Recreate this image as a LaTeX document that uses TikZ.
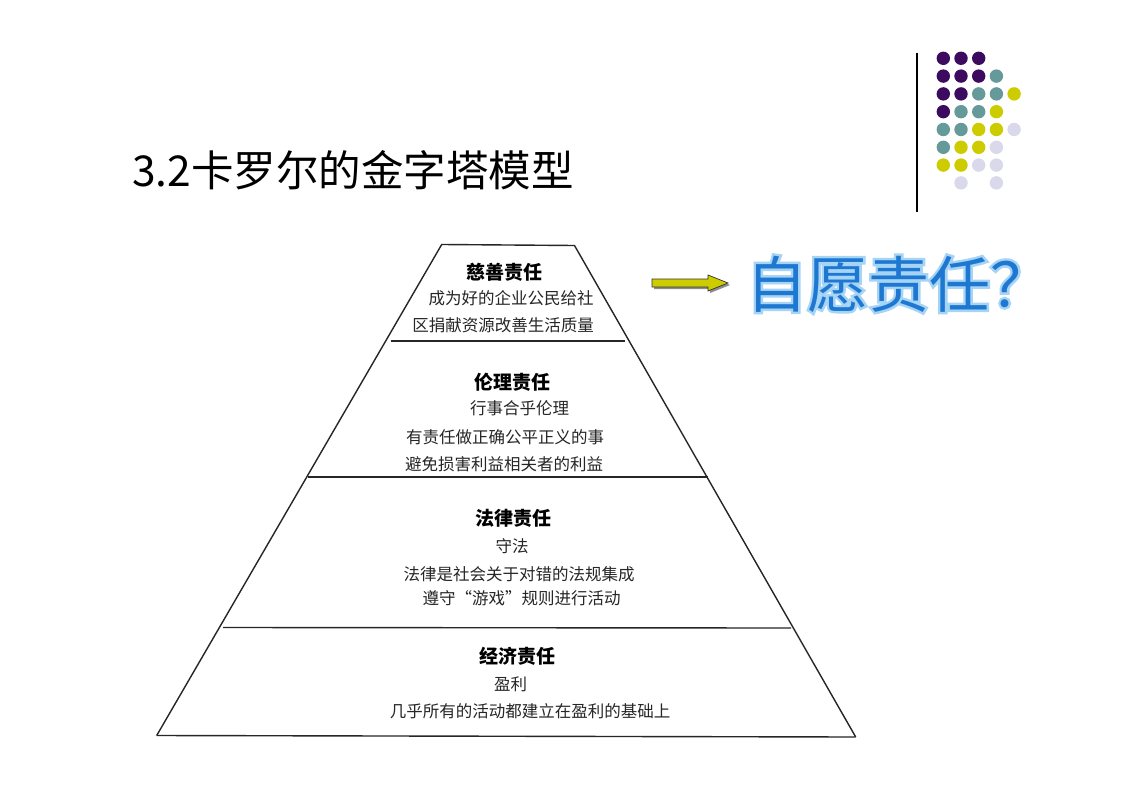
\documentclass[tikz,border=0pt]{standalone}
\usepackage{fontspec}
\newfontfamily\cjk{Noto Sans CJK SC}
\newfontfamily\cjkglow[FakeBold=8]{Noto Sans CJK SC}
\definecolor{dpurple}{RGB}{60,10,95}
\definecolor{dteal}{RGB}{102,153,153}
\definecolor{dyellow}{RGB}{204,204,0}
\definecolor{dlav}{RGB}{217,217,235}
\definecolor{vblue}{RGB}{30,120,210}
\definecolor{vglow}{RGB}{165,212,245}
\definecolor{arrowyel}{RGB}{204,204,0}
\begin{document}
\begin{tikzpicture}[x=1pt,y=-1pt,
  pline/.style={line width=1.4pt,draw=black!85},
  head/.style={font=\cjk\bfseries\fontsize{19}{21}\selectfont,inner sep=0pt},
  body/.style={font=\cjk\fontsize{16.5}{18}\selectfont,inner sep=0pt,text=black!85},
  dot/.style={radius=6.7}]
\useasboundingbox (0,0) rectangle (1123,794);
\fill[white] (0,0) rectangle (1123,794);

% title
\node[font=\cjk\fontsize{42.5}{46}\selectfont,anchor=west,inner sep=0pt] (title) at (132,170) {3.2卡罗尔的金字塔模型};

% decorative rule and dots
\coordinate (vt) at (917,53);
\coordinate (vb) at (917,212);
\draw[line width=1.2pt] (vt) -- (vb);
\foreach \c/\r/\col in {
 0/0/dpurple,1/0/dpurple,2/0/dpurple,
 0/1/dpurple,1/1/dpurple,2/1/dpurple,3/1/dteal,
 0/2/dpurple,1/2/dpurple,2/2/dteal,3/2/dteal,4/2/dyellow,
 0/3/dpurple,1/3/dteal,2/3/dteal,3/3/dyellow,
 0/4/dteal,1/4/dteal,2/4/dyellow,3/4/dyellow,4/4/dlav,
 0/5/dteal,1/5/dyellow,2/5/dyellow,3/5/dlav,
 0/6/dyellow,1/6/dyellow,2/6/dlav,3/6/dlav,
 1/7/dlav,3/7/dlav}
 \fill[\col] (943.3+17.7*\c,58.3+17.8*\r) circle[dot];

% pyramid
\coordinate (tl) at (441.7,244.5);
\coordinate (tr) at (574.5,245.5);
\coordinate (bl) at (156.7,735.5);
\coordinate (br) at (855.7,737);
\draw[pline,line join=miter] (bl) -- (tl) -- (tr) -- (br);
\draw[pline] (bl) -- (br);
\coordinate (d1l) at (391,341); \coordinate (d1r) at (625,341);
\coordinate (d2l) at (308,477); \coordinate (d2r) at (708,477);
\coordinate (d3l) at (223,627.5); \coordinate (d3r) at (791,628);
\draw[pline] (d1l) -- (d1r);
\draw[pline] (d2l) -- (d2r);
\draw[pline] (d3l) -- (d3r);

% tier 1
\node[head] (h1) at (504,272) {慈善责任};
\node[body] (t1a) at (511,298) {成为好的企业公民给社};
\node[body] (t1b) at (503,325) {区捐献资源改善生活质量};
% tier 2
\node[head] (h2) at (512,382) {伦理责任};
\node[body] (t2a) at (519.5,408) {行事合乎伦理};
\node[body] (t2b) at (505,437) {有责任做正确公平正义的事};
\node[body] (t2c) at (504,464) {避免损害利益相关者的利益};
% tier 3
\node[head] (h3) at (513,518.5) {法律责任};
\node[body] (t3a) at (512,546.5) {守法};
\node[body] (t3b) at (519,574.5) {法律是社会关于对错的法规集成};
\node[body] (t3c) at (521.5,598) {遵守“游戏”规则进行活动};
% tier 4
\node[head] (h4) at (517,656.5) {经济责任};
\node[body] (t4a) at (510.5,684.5) {盈利};
\node[body] (t4b) at (530,711) {几乎所有的活动都建立在盈利的基础上};

% block arrow
\fill[black!45] (654,281) -- (710,281) -- (710,277) -- (730,285) -- (710,293) -- (710,289) -- (654,289) -- cycle;
\filldraw[fill=arrowyel,draw=black!80,line width=0.7pt]
  (652,279) -- (708,279) -- (708,275) -- (728,283) -- (708,291) -- (708,287) -- (652,287) -- cycle;

% voluntary responsibility
\node[font=\cjkglow\fontsize{61}{64}\selectfont,text=vglow,inner sep=0pt,anchor=west] (volg) at (746,284) {自愿责任？};
\node[font=\cjk\fontsize{61}{64}\selectfont,text=vblue,inner sep=0pt,anchor=west] (vol) at (746,284) {自愿责任？};
\end{tikzpicture}
\end{document}
